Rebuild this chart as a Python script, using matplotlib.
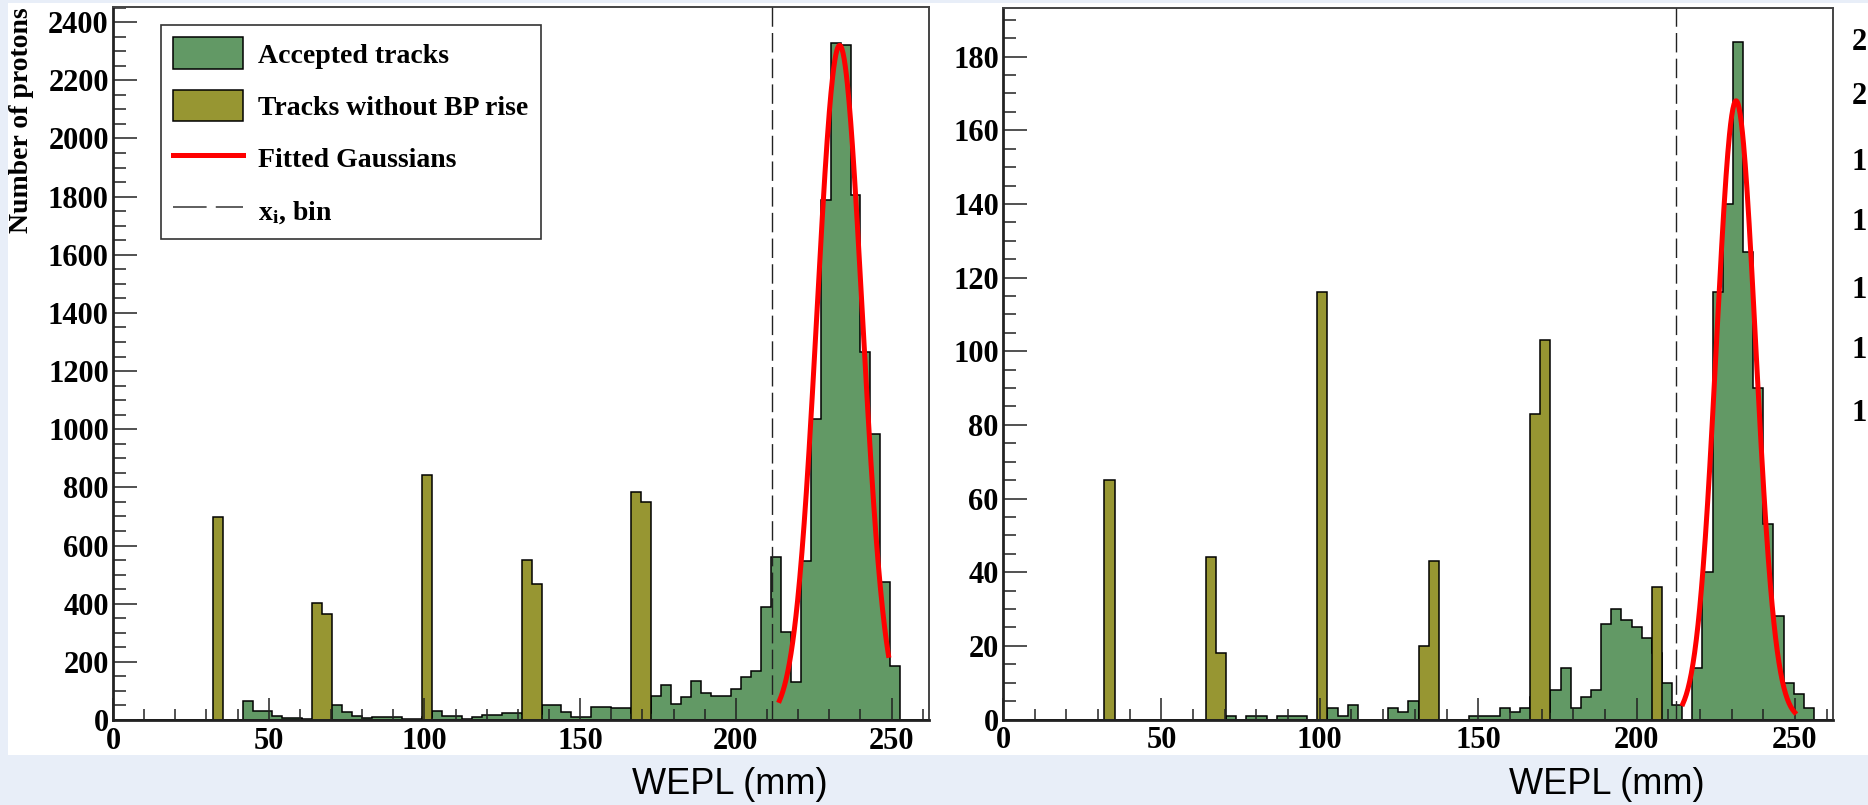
import numpy as np
import matplotlib.pyplot as plt
from matplotlib.patches import Patch, Rectangle
from matplotlib.lines import Line2D
from matplotlib.ticker import MultipleLocator

# binning of the WEPL histograms (mm)
bin_width = 3.2
n_bins = 82
edges = np.arange(n_bins + 1) * bin_width
centers = edges[:-1] + bin_width / 2

# accepted tracks, one count per bin (bins 0..81)
left_accepted = [
    0, 0, 0, 0, 0, 0, 0, 0, 0, 0, 0, 0, 0, 66, 31, 31, 14, 6, 6, 2,
    3, 52, 52, 29, 14, 6, 11, 11, 11, 5, 5, 10, 31, 15, 15, 5, 9, 17, 17, 23,
    23, 20, 20, 52, 52, 29, 11, 11, 46, 46, 40, 40, 23, 23, 84, 120, 54, 80, 135, 92,
    84, 84, 105, 149, 168, 390, 560, 303, 130, 547, 1034, 1789, 2329, 2321, 1805, 1266, 982, 474, 187, 0,
    0, 0]
right_accepted = [
    0, 0, 0, 0, 0, 0, 0, 0, 0, 0, 0, 0, 0, 0, 0, 0, 0, 0, 0, 0,
    0, 0, 1, 0, 1, 1, 0, 1, 1, 1, 0, 0, 3, 1, 4, 0, 0, 0, 3, 2,
    5, 0, 0, 0, 0, 0, 1, 1, 1, 3, 2, 3, 6, 2, 8, 14, 3, 6, 8, 26,
    30, 27, 25, 22, 18, 10, 4, 0, 14, 40, 116, 140, 184, 127, 90, 53, 28, 10, 7, 3,
    0, 0]

# tracks without Bragg-peak rise (bin index, count)
left_nobp_bins = [10, 20, 21, 31, 41, 42, 52, 53]
left_nobp_counts = [699, 401, 363, 842, 550, 468, 783, 751]
right_nobp_bins = [10, 20, 21, 31, 41, 42, 52, 53, 64]
right_nobp_counts = [65, 44, 18, 116, 20, 43, 83, 103, 36]

# fitted gaussians: amplitude, mean, sigma, fit range
left_fit = [2320, 233.3, 7.25, 214.0, 249.0]
right_fit = [168, 231.4, 6.2, 214.6, 249.9]

# x_i,bin cut positions
left_cut = 211.5
right_cut = 212.5

# first digits of the next panel's tick labels, cut by the image edge
edge_digits = ['2', '2', '1', '1', '1', '1', '1']
edge_digit_y = [43, 97, 163, 223, 290, 350, 413]

green = '#629965'
olive = '#979632'
W, H = 1868, 805

plt.rcParams['font.family'] = ['Liberation Serif', 'DejaVu Serif']
plt.rcParams['font.weight'] = 'bold'
plt.rcParams['font.size'] = 22
plt.rcParams['mathtext.fontset'] = 'custom'
plt.rcParams['mathtext.rm'] = 'Liberation Serif:bold'
plt.rcParams['mathtext.it'] = 'Liberation Serif:bold'

fig = plt.figure(figsize=(W / 100, H / 100), dpi=100, facecolor='#e8eef8')
fig.add_artist(Rectangle((8 / W, 50 / H), 1, 752 / H, transform=fig.transFigure,
                         facecolor='white', edgecolor='none', zorder=-5))

ax1 = fig.add_axes([113 / W, 85 / H, 816 / W, 713 / H])
ax2 = fig.add_axes([1003 / W, 85.5 / H, 830 / W, 711.5 / H])


def nobp_counts(bins, counts):
    c = np.zeros(n_bins)
    c[bins] = counts
    return c


def draw_panel(ax, accepted, nobp, fit, cut, ymax, ymajor, yminor):
    ax.hist(centers, bins=edges, weights=accepted, histtype='stepfilled',
            facecolor=green, edgecolor='black', lw=1.1)
    ax.hist(centers, bins=edges, weights=nobp, histtype='stepfilled',
            facecolor=olive, edgecolor='black', lw=1.1)
    amp, mu, sig, x0, x1 = fit
    xf = np.linspace(x0, x1, 200)
    ax.plot(xf, amp * np.exp(-0.5 * ((xf - mu) / sig) ** 2), color='red', lw=3.6, zorder=4)
    ax.axvline(cut, color='#222222', lw=1.0, dashes=(14, 4.5), zorder=3)
    ax.set_xlim(0, 262)
    ax.set_ylim(0, ymax)
    ax.xaxis.set_major_locator(MultipleLocator(50))
    ax.xaxis.set_minor_locator(MultipleLocator(10))
    ax.yaxis.set_major_locator(MultipleLocator(ymajor))
    ax.yaxis.set_minor_locator(MultipleLocator(yminor))
    ax.tick_params(which='both', direction='in', top=False, right=False, width=1.1, color='#222222')
    ax.tick_params(axis='x', which='major', length=16, pad=5)
    ax.tick_params(axis='x', which='minor', length=8)
    ax.tick_params(axis='y', which='major', length=17, pad=3)
    ax.tick_params(axis='y', which='minor', length=9)
    for side in ['top', 'right']:
        ax.spines[side].set_linewidth(1.4)
        ax.spines[side].set_color('#444444')
    for side in ['left', 'bottom']:
        ax.spines[side].set_linewidth(2.0)
        ax.spines[side].set_color('#222222')


draw_panel(ax1, left_accepted, nobp_counts(left_nobp_bins, left_nobp_counts),
           left_fit, left_cut, 2452, 200, 50)
draw_panel(ax2, right_accepted, nobp_counts(right_nobp_bins, right_nobp_counts),
           right_fit, right_cut, 193.2, 20, 5)

handles = [
    Patch(facecolor=green, edgecolor='black', lw=1.1),
    Patch(facecolor=olive, edgecolor='black', lw=1.1),
    Line2D([], [], color='red', lw=3.6),
    Line2D([], [], color='#333333', lw=1.1, dashes=(22, 6)),
]
labels = ['Accepted tracks', 'Tracks without BP rise', 'Fitted Gaussians', r'x$_{\rm i}$, bin']
leg = ax1.legend(handles, labels, loc='upper left', bbox_to_anchor=(0.0588, 0.9748),
                 borderaxespad=0, fancybox=False, framealpha=1, edgecolor='#333333',
                 handlelength=2.5, handleheight=1.38, labelspacing=0.74,
                 handletextpad=0.55, borderpad=0.45, fontsize=20)
leg.get_frame().set_linewidth(1.2)

fig.text(22 / W, 1 - 7 / H, 'Number of protons', rotation=90, ha='center', va='top',
         fontsize=20, fontweight='bold')

for xc in [730, 1607]:
    fig.text(xc / W, 1 - 784 / H, 'WEPL (mm)', ha='center', va='center',
             family=['Liberation Sans', 'DejaVu Sans'], fontweight='normal', fontsize=26)

for d, yy in zip(edge_digits, edge_digit_y):
    fig.text(1852 / W, 1 - yy / H, d, ha='left', va='center', fontsize=22, fontweight='bold')

fig.savefig('out.png', dpi=100, facecolor=fig.get_facecolor())
